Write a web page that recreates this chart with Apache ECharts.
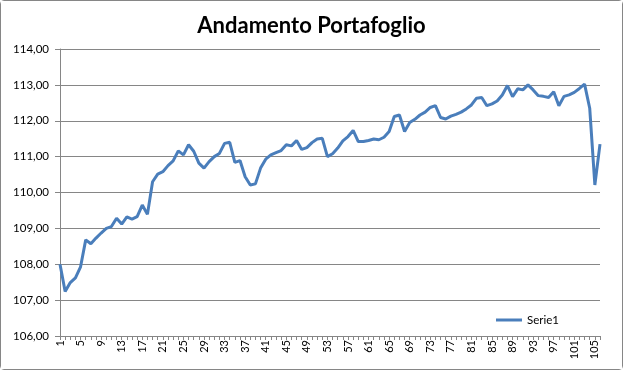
<!DOCTYPE html>
<html>
<head>
<meta charset="utf-8">
<script src="https://cdn.jsdelivr.net/npm/echarts@6/dist/echarts.min.js"></script>
<style>
html,body{margin:0;padding:0;background:#fff;}
#c{width:623px;height:370px;box-sizing:border-box;border:1px solid #868686;border-radius:4px;}
</style>
</head>
<body>
<div id="c"></div>
<script>
var title = "Andamento Portafoglio";
var seriesName = "Serie1";
var yMin = 106, yMax = 114, yStep = 1;
var values = [
108.0,107.24,107.49,107.62,107.93,108.68,108.57,108.73,108.87,109.0,
109.05,109.28,109.12,109.32,109.26,109.33,109.65,109.39,110.3,110.51,
110.58,110.75,110.88,111.16,111.05,111.33,111.15,110.82,110.68,110.86,
111.0,111.09,111.37,111.4,110.84,110.89,110.44,110.21,110.24,110.68,
110.93,111.05,111.11,111.17,111.33,111.3,111.45,111.2,111.25,111.39,
111.49,111.51,111.0,111.08,111.24,111.44,111.56,111.73,111.42,111.42,
111.45,111.49,111.47,111.54,111.7,112.12,112.16,111.7,111.95,112.04,
112.16,112.24,112.37,112.42,112.09,112.05,112.13,112.18,112.24,112.33,
112.44,112.63,112.65,112.42,112.47,112.55,112.72,112.98,112.67,112.89,
112.86,113.0,112.86,112.7,112.68,112.65,112.81,112.42,112.68,112.72,
112.79,112.9,113.02,112.35,110.21,111.35
];
var categories = values.map(function(v,i){return String(i+1);});

var chart = echarts.init(document.getElementById('c'));
var font = 'Lato, "Open Sans", sans-serif';
chart.setOption({
  animation:false,
  backgroundColor:'#fff',
  title:{text:title,left:'center',top:9,textStyle:{fontFamily:font,fontSize:22,fontWeight:'bold',color:'#000'}},
  grid:{left:59,right:22,top:48,bottom:33,containLabel:false},
  legend:{data:[{name:seriesName,icon:'rect'}],left:490,top:308,itemWidth:26,itemHeight:3,itemGap:4,
    textStyle:{fontFamily:font,fontSize:11.5,color:'#000'}},
  xAxis:{type:'category',data:categories,boundaryGap:false,
    axisLine:{lineStyle:{color:'#868686',width:1}},
    axisTick:{show:true,interval:0,length:4,lineStyle:{color:'#868686'}},
    axisLabel:{interval:3,rotate:90,fontFamily:font,fontSize:11,color:'#000',margin:4}},
  yAxis:{type:'value',min:yMin,max:yMax,interval:yStep,
    axisLine:{show:true,lineStyle:{color:'#868686',width:1}},
    axisTick:{show:true,length:5,lineStyle:{color:'#868686'}},
    splitLine:{lineStyle:{color:'#868686',width:1}},
    axisLabel:{fontFamily:font,fontSize:11.5,color:'#000',margin:11,
      formatter:function(v){return v.toFixed(2).replace('.',',');}}},
  series:[{name:seriesName,type:'line',data:values,symbol:'none',
    lineStyle:{color:'#4A7EBB',width:3},itemStyle:{color:'#4A7EBB'}}]
});
</script>
</body>
</html>
